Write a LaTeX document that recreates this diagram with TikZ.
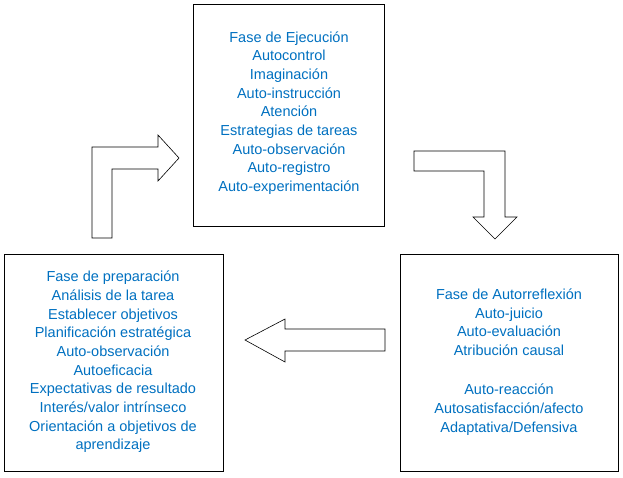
\documentclass[tikz,border=0pt]{standalone}
\usepackage{fontspec}
\setmainfont{Liberation Sans}
\definecolor{fasetext}{RGB}{0,112,192}
\begin{document}
\begin{tikzpicture}[x=1pt,y=-1pt,
        fase/.style={draw,semithick,inner sep=0pt},
        lista/.style={text=fasetext,align=center,font=\fontsize{14.5}{18.7}\selectfont},
        flecha/.style={draw,semithick,fill=white,line join=miter}]
    \useasboundingbox (0,0) rectangle (623,477);
    % boxes
    \draw[fase] (193,4) rectangle (384,226);
    \draw[fase] (4,254) rectangle (223,471);
    \draw[fase] (400,254) rectangle (618,471);
    % texts
    \node[lista] (ejec) at (289,113) {Fase de Ejecución\\Autocontrol\\Imaginación\\Auto-instrucción\\Atención\\Estrategias de tareas\\Auto-observación\\Auto-registro\\Auto-experimentación};
    \node[lista] (prep) at (113,362) {Fase de preparación\\Análisis de la tarea\\Establecer objetivos\\Planificación estratégica\\Auto-observación\\Autoeficacia\\Expectativas de resultado\\Interés/valor intrínseco\\Orientación a objetivos de\\aprendizaje};
    \node[lista] (refl) at (509,362) {Fase de Autorreflexión\\Auto-juicio\\Auto-evaluación\\Atribución causal\\[2pt]\\Auto-reacción\\Autosatisfacción/afecto\\Adaptativa/Defensiva};
    % arrows
    \draw[flecha] (92,238) -- (92,147) -- (158,147) -- (158,135) -- (179,158)
        -- (158,181) -- (158,169) -- (112,169) -- (112,238) -- cycle;
    \draw[flecha] (414,151) -- (505,151) -- (505,217) -- (517,217) -- (495,239)
        -- (473,217) -- (484,217) -- (484,171) -- (414,171) -- cycle;
    \draw[flecha] (385,329) -- (285,329) -- (285,319) -- (245,340) -- (285,362)
        -- (285,351) -- (385,351) -- cycle;
\end{tikzpicture}
\end{document}
